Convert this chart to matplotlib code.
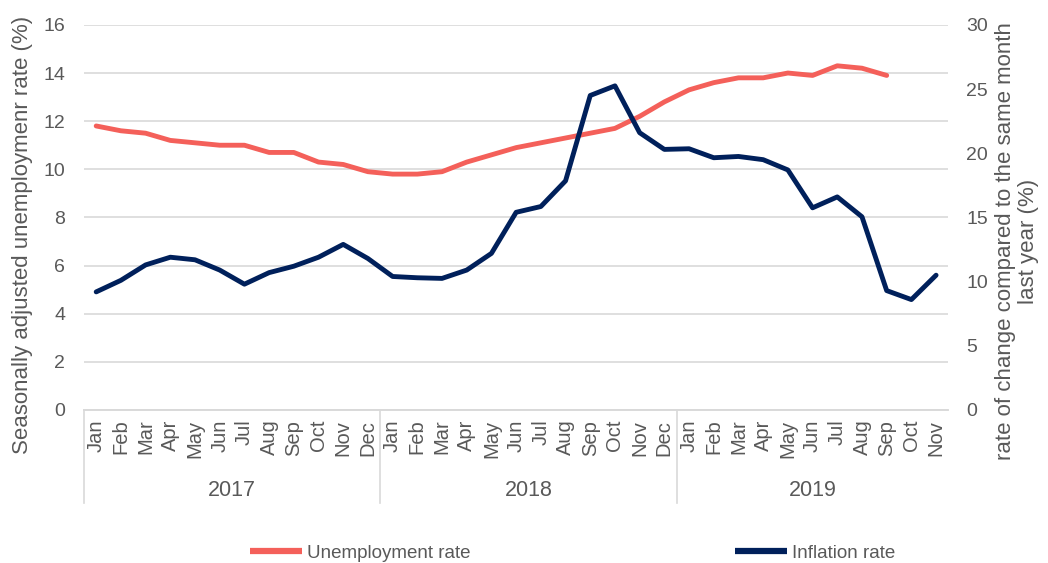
import numpy as np
import matplotlib
matplotlib.use("Agg")
import matplotlib.pyplot as plt
import matplotlib.transforms as mtransforms
from matplotlib.lines import Line2D

plt.rcParams['font.family'] = ['Liberation Sans', 'DejaVu Sans']

# Data
months = ["Jan", "Feb", "Mar", "Apr", "May", "Jun", "Jul", "Aug", "Sep", "Oct", "Nov", "Dec"]
years = ["2017", "2018", "2019"]
month_labels = months * 2 + months[:11]

unemployment = [11.8, 11.6, 11.5, 11.2, 11.1, 11.0, 11.0, 10.7, 10.7, 10.3, 10.2, 9.9,
                9.8, 9.8, 9.9, 10.3, 10.6, 10.9, 11.1, 11.3, 11.5, 11.7, 12.2, 12.8,
                13.3, 13.6, 13.8, 13.8, 14.0, 13.9, 14.3, 14.2, 13.9]
inflation = [9.2, 10.1, 11.3, 11.9, 11.7, 10.9, 9.8, 10.7, 11.2, 11.9, 12.9, 11.8,
             10.4, 10.3, 10.25, 10.9, 12.2, 15.4, 15.85, 17.85, 24.5, 25.25, 21.6, 20.3,
             20.35, 19.65, 19.75, 19.5, 18.7, 15.75, 16.6, 15.05, 9.3, 8.6, 10.5]

red = "#F4605A"
navy = "#00205B"
text_col = "#595959"
grid_col = "#D9D9D9"

fig = plt.figure(figsize=(10.48, 5.63), dpi=100)
ax = fig.add_axes([0.080, 0.2718, 0.825, 0.684])
ax2 = ax.twinx()

x_all = np.arange(len(month_labels))
ax.plot(np.arange(len(unemployment)), unemployment, color=red, lw=3.5, solid_capstyle='round', zorder=3)
ax2.plot(np.arange(len(inflation)), inflation, color=navy, lw=3.5, solid_capstyle='round', zorder=3)

ax.set_xlim(-0.5, len(month_labels) - 0.5)
ax.set_ylim(0, 16)
ax.set_yticks(range(0, 17, 2))
ax2.set_ylim(0, 30)
ax2.set_yticks(range(0, 31, 5))

ax.grid(axis='y', color=grid_col, lw=1.2)
ax.set_axisbelow(True)
for a in (ax, ax2):
    for s in ["top", "left", "right"]:
        a.spines[s].set_visible(False)
    a.spines["bottom"].set_color(grid_col)
    a.spines["bottom"].set_linewidth(1.2)
    a.tick_params(length=0, colors=text_col, labelsize=14)

ax.tick_params(axis='y', pad=13.5)
ax2.tick_params(axis='y', pad=13)

ax.set_xticks(x_all)
ax.set_xticklabels(month_labels, rotation=90, fontsize=14.5, color=text_col)
ax.tick_params(axis='x', pad=7)

fig.text(0.0219, 0.5826, "Seasonally adjusted unemploymenr rate (%)", rotation=90,
         ha='center', va='center', fontsize=16, color=text_col)
fig.text(0.9704, 0.572, "rate of change compared to the same month\nlast year (%)", rotation=90,
         ha='center', va='center', multialignment='center', fontsize=16, color=text_col,
         linespacing=1.1)

# year group labels and separators
trans = mtransforms.blended_transform_factory(ax.transData, ax.transAxes)
for sep in [-0.5, 11.5, 23.5]:
    ax.plot([sep, sep], [0, -0.2416], transform=trans, color=grid_col, lw=1.2, clip_on=False)
year_centers = [5.5, 17.5, 29.0]
for yr, cx in zip(years, year_centers):
    ax.text(cx, -0.208, yr, transform=trans, ha='center', va='center', fontsize=15.5, color=text_col)

# legend
h1 = Line2D([], [], color=red, lw=4.5, solid_capstyle='butt')
h2 = Line2D([], [], color=navy, lw=4.5, solid_capstyle='butt')
fig.legend([h1], ["Unemployment rate"], loc='center left', bbox_to_anchor=(0.2223, 0.017),
           frameon=False, fontsize=13.5, handlelength=2.8, handletextpad=0.25, labelcolor=text_col)
fig.legend([h2], ["Inflation rate"], loc='center left', bbox_to_anchor=(0.685, 0.017),
           frameon=False, fontsize=13.5, handlelength=2.8, handletextpad=0.25, labelcolor=text_col)

fig.savefig("out.png", dpi=100)
